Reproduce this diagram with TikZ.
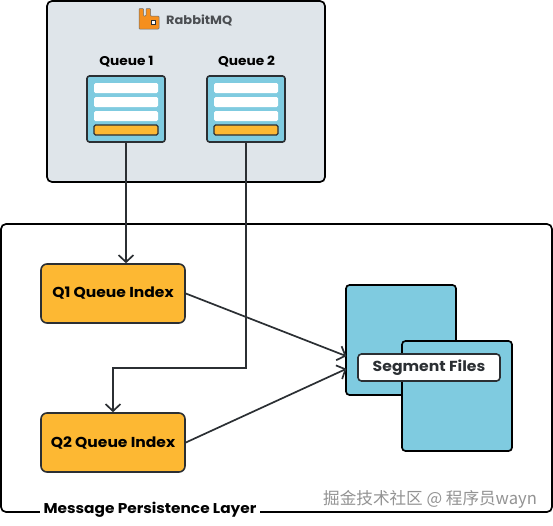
\documentclass[tikz,border=0pt]{standalone}
\usepackage{fontspec}
\setmainfont[FakeStretch=1.08]{Poppins}
\newfontfamily\cjkfont{Noto Sans CJK SC}
\definecolor{ink}{HTML}{2B2F33}
\definecolor{panel}{HTML}{DFE5EA}
\definecolor{sky}{HTML}{7FCBE0}
\definecolor{amber}{HTML}{FDB833}
\definecolor{logo}{HTML}{F58F1E}
\usetikzlibrary{arrows.meta}
\tikzset{
  frame/.style={draw=black,line width=1.7pt,rounded corners=5pt,inner sep=0pt},
  row/.style={fill=white,rounded corners=1.5pt,minimum width=64pt,minimum height=10pt,inner sep=0pt},
  orangebar/.style={fill=amber,draw=ink,line width=1.3pt,rounded corners=1.5pt,minimum width=64pt,minimum height=10pt,inner sep=0pt},
  qbox/.style={fill=sky,draw=ink,line width=1.6pt,rounded corners=2.5pt,minimum width=78pt,minimum height=66pt,inner sep=0pt},
  idx/.style={fill=amber,draw=ink,line width=1.6pt,rounded corners=6pt,minimum width=144pt,minimum height=59pt,inner sep=0pt,font=\fontsize{14.4}{16}\selectfont\bfseries,text=black},
  seg/.style={fill=sky,draw=black,line width=1.7pt,rounded corners=3.5pt,minimum width=110pt,minimum height=110pt,inner sep=0pt},
  conn/.style={draw=ink,line width=1.7pt,-{Straight Barb[length=7pt,width=15pt,line width=1.7pt]}},
  title/.style={font=\fontsize{12.7}{14}\selectfont\bfseries,text=black},
}
\begin{document}
\begin{tikzpicture}[x=1pt,y=-1pt]
\useasboundingbox (0,0) rectangle (553,525);
\fill[white] (0,0) rectangle (553,525);
% panels
\node[frame,fill=panel,minimum width=278pt,minimum height=181pt] (rabbit) at (186,91.5) {};
\node[frame,fill=white,minimum width=551pt,minimum height=288pt] (layer) at (276.5,368) {};
\node[fill=white,inner sep=0pt,minimum width=220pt,minimum height=18pt,font=\fontsize{14.2}{16}\selectfont\bfseries,text=black] (layerlabel) at (150,510) {\raisebox{-1pt}{Message Persistence Layer}};
% logo
\fill[logo,draw=ink!70,line width=.5pt,rounded corners=.8pt]
  (139,8.5) -- (143.5,8.5) -- (143.5,16) -- (146,16) -- (146,8.5) -- (150.5,8.5) -- (150.5,16) -- (159,16) -- (159,29) -- (139,29) -- cycle;
\fill[white,draw=ink,line width=.8pt] (151,20.5) rectangle (155,24.5);
\node[font=\fontsize{12}{14}\selectfont\bfseries,text=ink!85,anchor=west,inner sep=0pt] (rmq) at (166,20.5) {RabbitMQ};
% queues
\node[title] (t1) at (126.5,62) {Queue 1};
\node[title] (t2) at (246.5,62) {Queue 2};
\node[qbox] (q1) at (126,109) {};
\node[qbox] (q2) at (246,109) {};
\foreach \q in {q1,q2}{
  \node[row] (\q r1) at ([yshift=21pt]\q.center) {};
  \node[row] (\q r2) at ([yshift=7pt]\q.center) {};
  \node[row] (\q r3) at ([yshift=-7pt]\q.center) {};
  \node[orangebar] (\q bar) at ([yshift=-21pt]\q.center) {};
}
% index boxes
\node[idx] (i1) at (113,293.5) {\raisebox{-1.5pt}{Q1 Queue Index}};
\node[idx] (i2) at (113,442.5) {\raisebox{-1.5pt}{Q2 Queue Index}};
% coordinates
\coordinate (bend) at (246,368);
\coordinate (in1) at (346,356);
\coordinate (in2) at (346,369);
% segment files
\node[seg] (s1) at (401,340) {};
\node[seg] (s2) at (457,396) {};
\node[fill=white,draw=ink,line width=1.6pt,rounded corners=3.5pt,minimum width=142pt,minimum height=27pt,inner sep=0pt,font=\fontsize{14.5}{16}\selectfont\bfseries,text=ink] (sl) at (429,367.5) {\raisebox{-1pt}{Segment Files}};
% connectors
\draw[conn] (q1.south) -- (q1.south |- i1.north);
\draw[conn] (q2.south) -- (bend) -| (i2.north);
\draw[conn,shorten >=-0.5pt] (i1.east) -- (in1);
\draw[conn,shorten >=-0.5pt] (i2.east) -- (in2);
% watermark
\node[font=\cjkfont\fontsize{16.6}{18}\selectfont,text=gray!85,anchor=west,inner sep=0pt] (wm) at (323,499) {掘金技术社区 @ 程序员wayn};
\end{tikzpicture}
\end{document}
